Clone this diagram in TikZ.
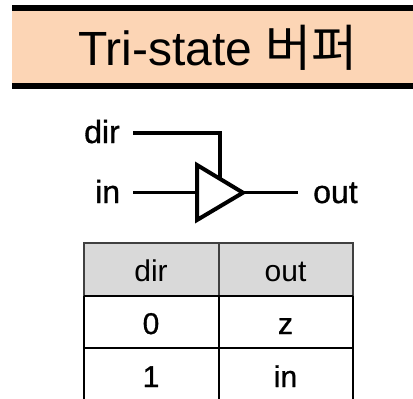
\documentclass[tikz,border=0pt]{standalone}
\usepackage{fontspec}
\setmainfont{Liberation Sans}
\newfontfamily\kofont{Noto Sans CJK KR}
\newfontfamily\heavy{Liberation Sans}[FakeBold=1]
\definecolor{peach}{HTML}{FCD5B5}
\definecolor{headgrey}{HTML}{D9D9D9}
\tikzset{
  lbl/.style={inner sep=0pt,font=\heavy\fontsize{32}{32}\selectfont,anchor=base},
  tbl/.style={inner sep=0pt,font=\fontsize{30}{30}\selectfont,anchor=base},
  tblb/.style={inner sep=0pt,font=\heavy\fontsize{30}{30}\selectfont,anchor=base},
  wire/.style={line width=3.2pt,black},
  rule/.style={line width=2pt,black}
}
\begin{document}
\begin{tikzpicture}[x=1pt,y=-1pt]
\useasboundingbox (0,0) rectangle (413,399);
% header band
\fill[peach] (12,8) rectangle (413,86);
\draw[line width=6pt] (12,8) -- (413,8);
\draw[line width=6pt] (12,86) -- (413,86);
\node[inner sep=0pt,anchor=base west,font=\fontsize{48}{48}\selectfont] (title) at (78,65) {Tri-state};
\node[inner sep=0pt,anchor=base west,font=\kofont\fontsize{50}{50}\selectfont] (titleko) at (265,66) {버퍼};
% circuit
\coordinate (tl) at (197,165);
\coordinate (bl) at (197,220);
\coordinate (tip) at (243,192.7);
\coordinate (ctl) at (220,179);
\node[lbl,anchor=base west] (dir) at (84,143) {dir};
\node[lbl,anchor=base west] (in) at (95,203) {in};
\node[lbl,anchor=base west] (out) at (313,203) {out};
\coordinate (dirs) at (133,132.7);
\coordinate (ins) at (133,192.7);
\coordinate (inE) at (197,192.7);
\coordinate (oute) at (298,192.7);
\draw[line width=4pt] (dirs) -| (ctl);
\draw[wire] (ins) -- (inE);
\draw[wire] (tip) -- (oute);
\draw[line width=4pt,miter limit=10,fill=white] (tl) -- (tip) -- (bl) -- cycle;
% table
\fill[headgrey] (84,242.7) rectangle (353,296);
\draw[line width=2pt,black!75] (84,296) -- (84,242.7) -- (353,242.7) -- (353,296);
\draw[line width=2pt,black!75] (218.5,242.7) -- (218.5,296);
\draw[rule] (84,296) -- (353,296);
\draw[rule] (84,348) -- (353,348);
\draw[rule] (84,296) -- (84,399);
\draw[rule] (218.5,296) -- (218.5,399);
\draw[rule] (353,296) -- (353,399);
\node[tbl] (h1) at (151,281.7) {dir};
\node[tbl] (h2) at (285.5,281.7) {out};
\node[tblb] (a1) at (151,334) {0};
\node[tblb] (a2) at (285.5,334) {z};
\node[tblb] (b1) at (151,387) {1};
\node[tblb] (b2) at (285.5,387) {in};
\end{tikzpicture}
\end{document}
